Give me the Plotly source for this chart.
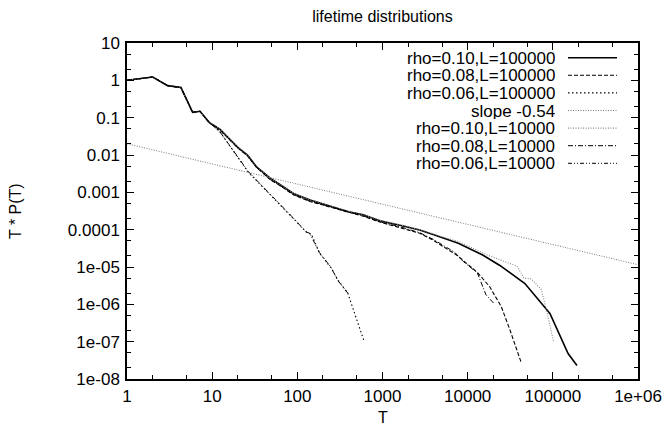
import plotly.graph_objects as go

# ---------------- data ----------------
T_common = [1, 2, 3, 4.3, 5.9, 7.2, 9.2]
P_common = [1.0, 1.23, 0.72, 0.64, 0.139, 0.148, 0.075]

T_r10_L100k = T_common + [12.3, 20, 26, 33, 48, 63, 90, 141, 241, 400, 594, 930, 1744, 2735, 4690, 7760, 15000, 23900, 47000, 92400, 151000, 192000]
P_r10_L100k = P_common + [0.049, 0.016, 0.0100, 0.0049, 0.0024, 0.0016, 9.3e-4, 6.2e-4, 4.3e-4, 3.0e-4, 2.5e-4, 1.74e-4, 1.26e-4, 9.8e-5, 6.5e-5, 4.3e-5, 2.1e-5, 1.1e-5, 3.6e-6, 5.7e-7, 4.8e-8, 2.3e-8]

T_r08_L100k = T_common + [12.3, 20, 26, 33, 48, 63, 90, 141, 241, 400, 594, 930, 1600, 2735, 3940, 7400, 12800, 18100, 24800, 31500, 42900]
P_r08_L100k = P_common + [0.047, 0.0155, 0.0095, 0.0047, 0.0022, 0.0015, 8.6e-4, 5.7e-4, 4.0e-4, 2.9e-4, 2.3e-4, 1.6e-4, 1.15e-4, 8.0e-5, 5.2e-5, 2.1e-5, 7.4e-6, 3.0e-6, 8.7e-7, 2.0e-7, 2.6e-8]

T_r06_L100k = T_common + [12.3, 26.5, 54.5, 93.7, 130, 146, 184, 253, 297, 391, 610]
P_r06_L100k = P_common + [0.042, 0.0035, 6.5e-4, 1.8e-4, 8.3e-5, 7.6e-5, 2.3e-5, 9.0e-6, 4.6e-6, 2.0e-6, 1.0e-7]

T_slope = [1, 1000000]
P_slope = [0.02, 0.02 * 1000000 ** -0.54]

T_r10_L10k = T_common + [12.3, 20, 26, 33, 48, 63, 90, 141, 241, 400, 594, 930, 1744, 2735, 4800, 7700, 17000, 29000, 38000, 46000, 56000, 73000, 84000, 102000]
P_r10_L10k = P_common + [0.049, 0.016, 0.0100, 0.0049, 0.0024, 0.0016, 9.4e-4, 6.3e-4, 4.4e-4, 3.1e-4, 2.5e-4, 1.78e-4, 1.3e-4, 1.0e-4, 6.6e-5, 4.9e-5, 2.1e-5, 1.3e-5, 1.05e-5, 5.0e-6, 4.8e-6, 2.5e-6, 7.2e-7, 1.0e-7]

T_r08_L10k = T_common + [12.3, 20, 26, 33, 48, 63, 90, 141, 241, 400, 594, 930, 1600, 2735, 3940, 7000, 8900, 13000, 16400, 20800]
P_r08_L10k = P_common + [0.047, 0.0156, 0.0096, 0.0047, 0.0022, 0.0015, 8.7e-4, 5.8e-4, 4.1e-4, 2.9e-4, 2.35e-4, 1.62e-4, 1.2e-4, 8.3e-5, 5.5e-5, 2.5e-5, 1.4e-5, 6.9e-6, 1.8e-6, 1.0e-6]

T_r06_L10k = T_common + [12.3, 26.5, 54.5, 93.7, 125, 140, 180, 247, 300, 391]
P_r06_L10k = P_common + [0.042, 0.0036, 6.7e-4, 1.85e-4, 8.8e-5, 8.0e-5, 2.5e-5, 1.0e-5, 4.3e-6, 2.0e-6]

series_names = ["rho=0.10,L=100000", "rho=0.08,L=100000", "rho=0.06,L=100000", "slope -0.54",
                "rho=0.10,L=10000", "rho=0.08,L=10000", "rho=0.06,L=10000"]

x_tickvals = [1, 10, 100, 1000, 10000, 100000, 1000000]
x_ticktext = ["1", "10", "100", "1000", "10000", "100000", "1e+06"]
y_tickvals = [1e-8, 1e-7, 1e-6, 1e-5, 1e-4, 1e-3, 1e-2, 1e-1, 1, 10]
y_ticktext = ["1e-08", "1e-07", "1e-06", "1e-05", "0.0001", "0.001", "0.01", "0.1", "1", "10"]

# ---------------- styling ----------------
W, H = 662, 427
L_M, R_M, T_M, B_M = 127, 24, 43, 48
PW, PH = W - L_M - R_M, H - T_M - B_M
FONT = "Liberation Sans"

styles = [
    dict(color="black", width=1.6, dash="solid"),
    dict(color="black", width=1.1, dash="4px,2px"),
    dict(color="black", width=1.1, dash="1.5px,2.5px"),
    dict(color="#777777", width=1.0, dash="1px,1.5px"),
    dict(color="#888888", width=1.1, dash="1px,1.5px"),
    dict(color="black", width=1.0, dash="5px,2px,1px,2px"),
    dict(color="black", width=1.0, dash="4px,2px,1px,2px,1px,2px"),
]

data = [
    (T_r10_L100k, P_r10_L100k),
    (T_r08_L100k, P_r08_L100k),
    (T_r06_L100k, P_r06_L100k),
    (T_slope, P_slope),
    (T_r10_L10k, P_r10_L10k),
    (T_r08_L10k, P_r08_L10k),
    (T_r06_L10k, P_r06_L10k),
]

fig = go.Figure()
for (xs, ys), name, st in zip(data, series_names, styles):
    fig.add_trace(go.Scatter(x=xs, y=ys, mode="lines", name=name, line=st, showlegend=False))

# helpers: window pixel -> paper coordinates
def px2paper_x(px):
    return (px - L_M) / PW

def px2paper_y(py):
    return 1 - (py - T_M) / PH

annotations = []
shapes = []
row0, drow = 57.7, 17.6
for i, (name, st) in enumerate(zip(series_names, styles)):
    yc = row0 + i * drow
    annotations.append(dict(xref="paper", yref="paper", x=px2paper_x(556), y=px2paper_y(yc),
                            text=name, showarrow=False, xanchor="right", yanchor="middle",
                            height=16, borderpad=0,
                            font=dict(family=FONT, size=17, color="black")))
    shapes.append(dict(type="line", xref="paper", yref="paper",
                       x0=px2paper_x(568), x1=px2paper_x(617), y0=px2paper_y(yc), y1=px2paper_y(yc),
                       line=st))

# axis titles
annotations.append(dict(xref="paper", yref="paper", x=px2paper_x(15), y=px2paper_y(211),
                        text="T * P(T)", textangle=-90, showarrow=False,
                        xanchor="center", yanchor="middle", font=dict(family=FONT, size=16, color="black")))
annotations.append(dict(xref="paper", yref="paper", x=px2paper_x(382.5), y=px2paper_y(417),
                        text="T", showarrow=False, xanchor="center", yanchor="middle",
                        height=16, borderpad=0,
                        font=dict(family=FONT, size=16, color="black")))

minor_x = [m * 10 ** e for e in range(0, 6) for m in (2, 5)]
minor_y = [m * 10.0 ** e for e in range(-8, 1) for m in (2, 5)]

axis_common = dict(type="log", showgrid=False, zeroline=False, showline=True, linecolor="black",
                   linewidth=1.5, mirror="allticks", ticks="inside", ticklen=7, tickwidth=1,
                   tickcolor="black", tickfont=dict(family=FONT, size=17, color="black"),
                   automargin=False)

fig.update_layout(
    width=W, height=H, autosize=False,
    margin=dict(l=L_M, r=R_M, t=T_M, b=B_M, autoexpand=False),
    paper_bgcolor="white", plot_bgcolor="white",
    title=dict(text="lifetime distributions", x=px2paper_x(382.5), xref="paper",
               y=1 - 16 / H, yanchor="middle", xanchor="center", automargin=False,
               font=dict(family=FONT, size=16, color="black")),
    xaxis=dict(range=[0, 6], tickmode="array", tickvals=x_tickvals, ticktext=x_ticktext,
               ticklabelstandoff=1,
               minor=dict(tickmode="array", tickvals=minor_x, ticks="inside", ticklen=4, tickcolor="black"),
               **axis_common),
    yaxis=dict(range=[-8, 1], tickmode="array", tickvals=y_tickvals, ticktext=y_ticktext,
               ticklabelstandoff=2,
               minor=dict(tickmode="array", tickvals=minor_y, ticks="inside", ticklen=4, tickcolor="black"),
               **axis_common),
    annotations=annotations,
    shapes=shapes,
    showlegend=False,
)

fig.write_html("out.html", config={"responsive": False, "displayModeBar": False},
               post_script="document.body.style.margin='0px';document.body.style.overflow='hidden';")
